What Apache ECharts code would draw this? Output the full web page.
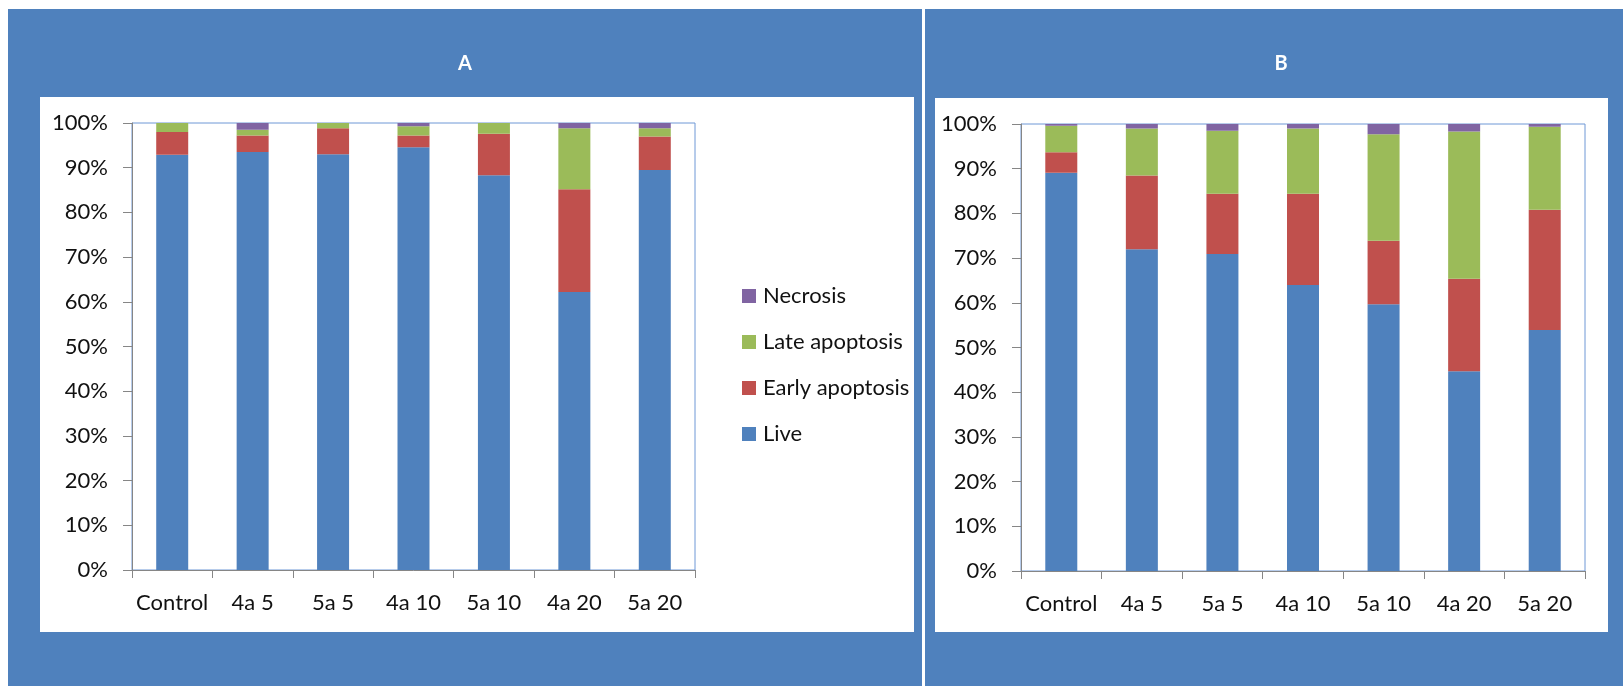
<!DOCTYPE html>
<html>
<head>
<meta charset="utf-8">
<script src="https://cdn.jsdelivr.net/npm/echarts@6/dist/echarts.min.js"></script>
<style>
  html, body { margin: 0; padding: 0; background: #ffffff; }
  #chart { width: 1623px; height: 686px; }
</style>
</head>
<body>
<div id="chart"></div>
<script>
// Treatment groups on the category axis
const categories = ['Control', '4a 5', '5a 5', '4a 10', '5a 10', '4a 20', '5a 20'];
const seriesNames = ['Live', 'Early apoptosis', 'Late apoptosis', 'Necrosis'];
const legendOrder = ['Necrosis', 'Late apoptosis', 'Early apoptosis', 'Live'];
const panelTitles = ['A', 'B'];

// Panel A — percentage of cells per population
const liveA  = [92.9, 93.5, 93.0, 94.6, 88.3, 62.2, 89.5];
const earlyA = [5.1, 3.7, 5.8, 2.6, 9.3, 23.0, 7.5];
const lateA  = [2.0, 1.3, 1.2, 2.1, 2.4, 13.6, 1.8];
const necA   = [0.0, 1.5, 0.0, 0.7, 0.0, 1.2, 1.2];

// Panel B — percentage of cells per population
const liveB  = [89.1, 72.0, 70.9, 64.0, 59.7, 44.7, 53.9];
const earlyB = [4.6, 16.5, 13.5, 20.4, 14.2, 20.7, 26.9];
const lateB  = [5.9, 10.5, 14.1, 14.6, 23.8, 32.9, 18.6];
const necB   = [0.4, 1.0, 1.5, 1.0, 2.3, 1.7, 0.6];

const colors = ['#4F81BD', '#C0504D', '#9BBB59', '#8064A2'];
const FONT = 'Lato, "Open Sans", sans-serif';
const PANEL = '#4F81BD';
const AXIS = '#868686';

const panelData = [
  [liveA, earlyA, lateA, necA],
  [liveB, earlyB, lateB, necB]
];

function xAxisFor(i) {
  return {
    type: 'category',
    gridIndex: i,
    data: categories,
    axisLine: { show: true, lineStyle: { color: AXIS, width: 1 } },
    axisTick: { show: true, alignWithLabel: false, length: 8, lineStyle: { color: AXIS } },
    axisLabel: { color: '#111', fontFamily: FONT, fontSize: 22, margin: 22, interval: 0, hideOverlap: false },
    splitLine: { show: false }
  };
}

function yAxisFor(i) {
  return {
    type: 'value',
    gridIndex: i,
    min: 0,
    max: 100,
    interval: 10,
    axisLine: { show: true, lineStyle: { color: AXIS, width: 1 } },
    axisTick: { show: true, length: 9, lineStyle: { color: AXIS } },
    axisLabel: { color: '#111', fontFamily: FONT, fontSize: 22, margin: 24, formatter: '{value}%' },
    splitLine: { show: false }
  };
}

const series = [];
panelData.forEach(function (sets, p) {
  sets.forEach(function (values, k) {
    series.push({
      name: seriesNames[k],
      type: 'bar',
      stack: 'panel' + p,
      xAxisIndex: p,
      yAxisIndex: p,
      barWidth: 32,
      itemStyle: { color: colors[k] },
      emphasis: { disabled: true },
      data: values
    });
  });
});

const chart = echarts.init(document.getElementById('chart'), null, { renderer: 'canvas' });
chart.setOption({
  animation: false,
  backgroundColor: '#ffffff',
  color: colors,
  graphic: [
    { type: 'rect', z: -10, shape: { x: 8, y: 9, width: 914, height: 677 }, style: { fill: PANEL } },
    { type: 'rect', z: -10, shape: { x: 925, y: 9, width: 698, height: 677 }, style: { fill: PANEL } },
    { type: 'rect', z: -9, shape: { x: 40, y: 97, width: 874, height: 535 }, style: { fill: '#ffffff' } },
    { type: 'rect', z: -9, shape: { x: 935, y: 98, width: 673, height: 534 }, style: { fill: '#ffffff' } },
    { type: 'text', z: 5, x: 465, y: 64, style: { text: panelTitles[0], fill: '#ffffff', font: 'bold 20px ' + FONT, align: 'center', verticalAlign: 'middle' } },
    { type: 'text', z: 5, x: 1281, y: 64, style: { text: panelTitles[1], fill: '#ffffff', font: 'bold 20px ' + FONT, align: 'center', verticalAlign: 'middle' } }
  ],
  legend: {
    orient: 'vertical',
    left: 737,
    top: 279,
    data: legendOrder,
    icon: 'rect',
    itemWidth: 14,
    itemHeight: 14,
    itemGap: 22,
    selectedMode: false,
    textStyle: { fontFamily: FONT, fontSize: 22, color: '#111', lineHeight: 24, padding: [0, 0, 0, 2] }
  },
  grid: [
    { left: 132, top: 123, width: 563, height: 447, show: true, backgroundColor: 'transparent', borderColor: '#6F98D6', borderWidth: 1, containLabel: false },
    { left: 1021, top: 124, width: 564, height: 447, show: true, backgroundColor: 'transparent', borderColor: '#6F98D6', borderWidth: 1, containLabel: false }
  ],
  xAxis: [xAxisFor(0), xAxisFor(1)],
  yAxis: [yAxisFor(0), yAxisFor(1)],
  series: series
});
</script>
</body>
</html>
